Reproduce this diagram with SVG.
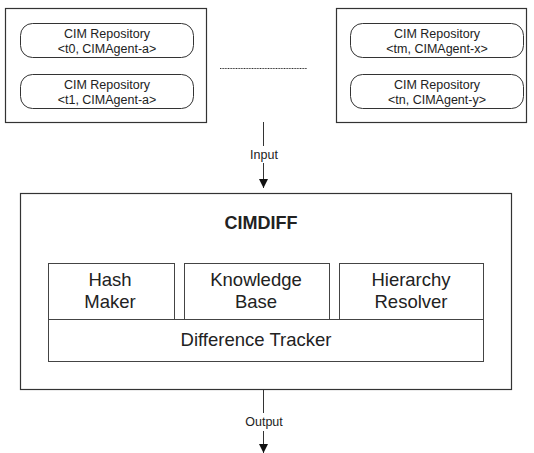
<svg xmlns="http://www.w3.org/2000/svg" width="534" height="453" viewBox="0 0 534 453">
  <style>
    .frame { fill: #fff; stroke: #333; stroke-width: 1.2; }
    .repo { fill: #fff; stroke: #333; stroke-width: 1; }
    .mod { fill: #fff; stroke: #444; stroke-width: 1; }
    .small { font-family: "Liberation Sans", Arial, sans-serif; font-size: 12.5px; fill: #222; text-anchor: middle; }
    .label { font-family: "Liberation Sans", Arial, sans-serif; font-size: 18.5px; fill: #222; text-anchor: middle; }
    .title { font-family: "Liberation Sans", Arial, sans-serif; font-size: 18px; font-weight: bold; fill: #222; text-anchor: middle; }
    .wire { stroke: #333; stroke-width: 1; fill: none; }
  </style>
  <defs>
    <marker id="arrow" viewBox="0 0 10 10" refX="10" refY="5" markerWidth="12" markerHeight="9" markerUnits="userSpaceOnUse" orient="auto">
      <path d="M0,0 L10,5 L0,10 Z" fill="#111"/>
    </marker>
  </defs>
  <rect width="534" height="453" fill="#fff"/>

  <!-- repository snapshots, first agent -->
  <g id="repos-left">
    <rect class="frame" x="5.5" y="8.5" width="201" height="114"/>
    <rect class="repo" x="20.5" y="23.5" width="173" height="34" rx="12"/>
    <text class="small" x="107" y="37.5">CIM Repository</text>
    <text class="small" x="107" y="53">&lt;t0, CIMAgent-a&gt;</text>
    <rect class="repo" x="20.5" y="74.5" width="173" height="34" rx="12"/>
    <text class="small" x="107" y="88.5">CIM Repository</text>
    <text class="small" x="107" y="104">&lt;t1, CIMAgent-a&gt;</text>
  </g>

  <!-- repository snapshots, other agents -->
  <g id="repos-right">
    <rect class="frame" x="336.5" y="8.5" width="190" height="114"/>
    <rect class="repo" x="350.5" y="23.5" width="173" height="34" rx="12"/>
    <text class="small" x="437" y="37.5">CIM Repository</text>
    <text class="small" x="437" y="53">&lt;tm, CIMAgent-x&gt;</text>
    <rect class="repo" x="350.5" y="74.5" width="173" height="34" rx="12"/>
    <text class="small" x="437" y="88.5">CIM Repository</text>
    <text class="small" x="437" y="104">&lt;tn, CIMAgent-y&gt;</text>
  </g>

  <!-- CIMDIFF engine -->
  <g id="cimdiff">
    <rect class="frame" x="20.5" y="193.5" width="491" height="196" stroke-width="1.5"/>
    <text class="title" x="261" y="229">CIMDIFF</text>
  </g>
  <g id="hash-maker">
    <rect class="mod" x="48.5" y="263.5" width="126" height="56"/>
    <text class="label" x="110" y="286">Hash</text>
    <text class="label" x="110" y="308">Maker</text>
  </g>
  <g id="knowledge-base">
    <rect class="mod" x="184.5" y="263.5" width="145" height="56"/>
    <text class="label" x="256" y="286">Knowledge</text>
    <text class="label" x="256" y="308">Base</text>
  </g>
  <g id="hierarchy-resolver">
    <rect class="mod" x="339.5" y="263.5" width="144" height="56"/>
    <text class="label" x="411" y="286">Hierarchy</text>
    <text class="label" x="411" y="308">Resolver</text>
  </g>
  <g id="difference-tracker">
    <rect class="mod" x="48.5" y="319.5" width="435" height="42"/>
    <text class="label" x="256" y="346">Difference Tracker</text>
  </g>

  <!-- connectors -->
  <g id="connectors">
    <line class="wire" x1="220" y1="68.5" x2="307" y2="68.5" stroke="#555" stroke-dasharray="1 0.6"/>
    <line class="wire" x1="263.5" y1="122" x2="263.5" y2="146"/>
    <text class="small" x="264" y="159">Input</text>
    <line class="wire" x1="263.5" y1="163" x2="263.5" y2="188" marker-end="url(#arrow)"/>
    <line class="wire" x1="263.5" y1="390" x2="263.5" y2="413"/>
    <text class="small" x="264" y="426">Output</text>
    <line class="wire" x1="263.5" y1="431" x2="263.5" y2="453" marker-end="url(#arrow)"/>
  </g>
</svg>
